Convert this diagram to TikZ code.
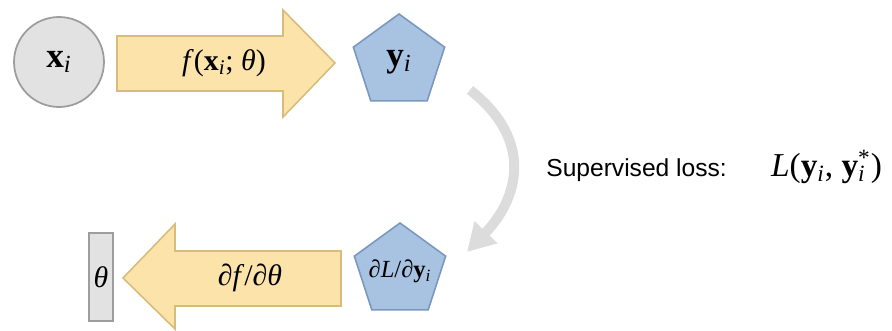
\documentclass[tikz,border=0pt]{standalone}
\usepackage{fontspec}
\setmainfont{Liberation Serif}
\setsansfont{Liberation Sans}
\usetikzlibrary{shapes.geometric,arrows.meta}
\definecolor{inputgray}{HTML}{E2E2E2}
\definecolor{inputline}{HTML}{9D9D9D}
\definecolor{flowfill}{HTML}{FBE3AA}
\definecolor{flowline}{HTML}{D8BC7C}
\definecolor{outblue}{HTML}{A8C2E2}
\definecolor{outline}{HTML}{7A97C0}
\definecolor{lossgray}{HTML}{DCDCDC}
% bold vector with italic index
\newcommand{\vecidx}[1]{\textbf{#1}\textsubscript{\textit{i}}}
\begin{document}
\begin{tikzpicture}[x=0.02cm,y=0.02cm,
    mathbig/.style={font=\fontsize{17}{20}\selectfont},
    bigarrow/.style={fill=flowfill,draw=flowline,line width=0.9pt},
    outpent/.style={regular polygon,regular polygon sides=5,minimum size=1.92cm,
        inner sep=0pt,fill=outblue,draw=outline,line width=0.9pt},
    grayblock/.style={fill=inputgray,draw=inputline,line width=1pt}]
    \useasboundingbox (0,0) rectangle (892,331);

    % forward pass
    \node[circle,grayblock,minimum size=1.8cm,font=\fontsize{20}{24}\selectfont]
        (input) at (59,269) {\vecidx{x}};
    \path[bigarrow]
        (117,295) -- (283,295) -- (283,321) -- (335,268)
        -- (283,214) -- (283,240) -- (117,240) -- cycle;
    \node[mathbig] (forward-label) at (224,268)
        {\textit{f}(\vecidx{x}; \textit{θ})};
    \node[outpent,font=\fontsize{20}{24}\selectfont] (output) at (399,269)
        {\vecidx{y}};

    % backward pass
    \node[outpent,font=\fontsize{14}{16}\selectfont] (grad-output) at (400,60)
        {\makebox[0pt]{\textit{∂L}/\textit{∂}\vecidx{y}}};
    \path[bigarrow]
        (341,80) -- (175,80) -- (175,107) -- (123,53)
        -- (175,2) -- (175,25) -- (341,25) -- cycle;
    \node[mathbig] (backward-label) at (250,53) {\textit{∂f}/\textit{∂θ}};
    \node[grayblock,minimum width=0.48cm,minimum height=1.76cm,inner sep=0pt,
        mathbig] (params) at (101,54) {\textit{θ}};

    % loss
    \coordinate (loss-start) at (470,241);
    \coordinate (loss-end) at (467,79);
    \draw[lossgray,line width=0.2cm,
        -{Triangle[width=0.6cm,length=0.55cm]}]
        (loss-start) .. controls (535,190) and (518,132) .. (loss-end);
    \node[anchor=west,inner sep=0pt] (loss-label) at (546,164)
        {\fontsize{14}{17}\selectfont\sffamily Supervised loss:\hspace{1.8em}%
         \fontsize{19}{22}\selectfont\rmfamily\textit{L}(\vecidx{y},
         \textbf{y}\rlap{\textsubscript{\textit{i}}}\textsuperscript{*})};
\end{tikzpicture}
\end{document}
